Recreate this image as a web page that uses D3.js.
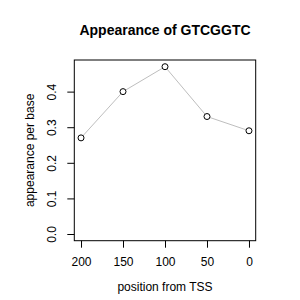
<!DOCTYPE html>
<html>
<head>
    <title>Appearance of GTCGGTC</title>
    <script type="text/javascript" src="https://cdn.jsdelivr.net/npm/d3@7/dist/d3.min.js"></script>
    <style type="text/css">
        body { margin: 0; background: #fff; }
        svg { font-family: "Liberation Sans", Arial, sans-serif; }
    </style>
</head>
<body>
    <svg id="chart" width="300" height="300"></svg>
</body>

<script type="text/javascript">

    let positions = [200, 150, 100, 50, 0];
    let appearance = [0.27, 0.40, 0.47, 0.33, 0.29];
    let xTicks = [200, 150, 100, 50, 0];
    let yTicks = [0.0, 0.1, 0.2, 0.3, 0.4];

    let plotLeft = 74.3, plotRight = 255.7, plotTop = 60, plotBottom = 240.7;

    let svg = d3.select("#chart");

    // R style: 4% padding on each side
    let x = d3.scaleLinear().domain([208, -8]).range([plotLeft, plotRight]);
    let y = d3.scaleLinear().domain([-0.0188, 0.4888]).range([plotBottom, plotTop]);

    svg.append("rect")
        .attr("width", 300).attr("height", 300).attr("fill", "#fff");

    // x axis
    let xa = svg.append("g")
        .attr("transform", "translate(0," + plotBottom + ")")
        .call(d3.axisBottom(x).tickValues(xTicks).tickSize(7).tickSizeOuter(0));
    xa.select(".domain").remove();
    xa.selectAll("line").attr("stroke", "#000");
    xa.selectAll("text")
        .attr("y", 17)
        .attr("font-size", 12)
        .attr("font-family", "Liberation Sans, Arial, sans-serif");

    // y axis
    let ya = svg.append("g")
        .attr("transform", "translate(" + plotLeft + ",0)")
        .call(d3.axisLeft(y).tickValues(yTicks).tickFormat(d3.format(".1f")).tickSize(7).tickSizeOuter(0));
    ya.select(".domain").remove();
    ya.selectAll("line").attr("stroke", "#000");
    ya.selectAll("text")
        .attr("x", null).attr("dy", null)
        .attr("transform", "translate(-18,0) rotate(-90)")
        .attr("text-anchor", "middle")
        .attr("font-size", 12)
        .attr("font-family", "Liberation Sans, Arial, sans-serif");

    // box
    svg.append("rect")
        .attr("x", plotLeft).attr("y", plotTop)
        .attr("width", plotRight - plotLeft).attr("height", plotBottom - plotTop)
        .attr("fill", "none").attr("stroke", "#000").attr("stroke-width", 1);

    let data = positions.map(function(p, i) { return [p, appearance[i]]; });

    let line = d3.line()
        .x(function(d) { return x(d[0]); })
        .y(function(d) { return y(d[1]); });

    svg.append("path")
        .attr("d", line(data))
        .attr("fill", "none")
        .attr("stroke", "#bebebe")
        .attr("stroke-width", 1);

    svg.selectAll("circle.pt")
        .data(data)
        .enter().append("circle")
        .attr("class", "pt")
        .attr("cx", function(d) { return x(d[0]); })
        .attr("cy", function(d) { return y(d[1]); })
        .attr("r", 3)
        .attr("fill", "#fff")
        .attr("stroke", "#000")
        .attr("stroke-width", 1);

    // titles
    svg.append("text")
        .attr("x", (plotLeft + plotRight) / 2).attr("y", 35)
        .attr("text-anchor", "middle")
        .attr("font-size", 14).attr("font-weight", "bold")
        .text("Appearance of GTCGGTC");

    svg.append("text")
        .attr("x", (plotLeft + plotRight) / 2).attr("y", 291)
        .attr("text-anchor", "middle")
        .attr("font-size", 12)
        .text("position from TSS");

    svg.append("text")
        .attr("transform", "translate(34," + ((plotTop + plotBottom) / 2) + ") rotate(-90)")
        .attr("text-anchor", "middle")
        .attr("font-size", 12)
        .text("appearance per base");

</script>

</html>
